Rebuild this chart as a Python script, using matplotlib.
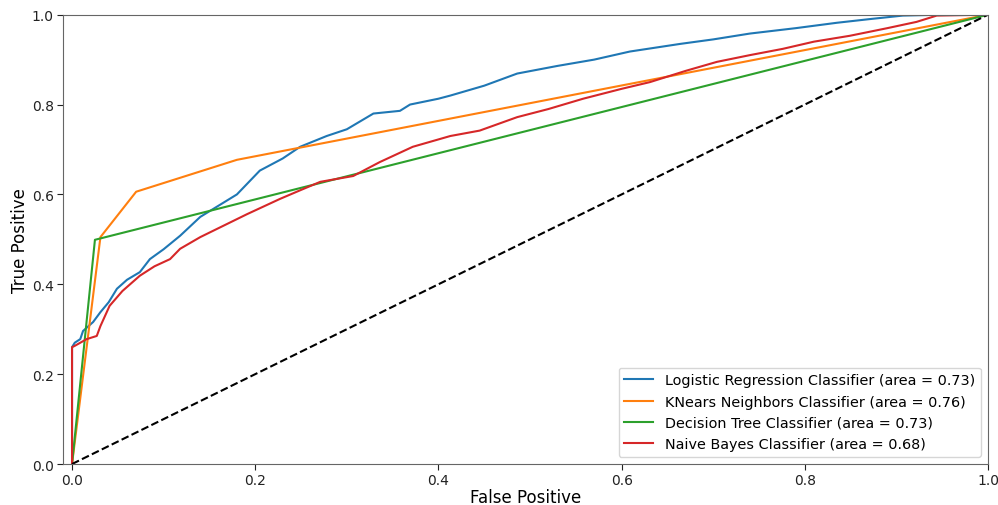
import matplotlib
matplotlib.use("Agg")
import matplotlib.pyplot as plt

# Logistic Regression ROC
lr_fpr = [0.0, 0.0, 0.003, 0.009, 0.012, 0.023, 0.031, 0.04, 0.049, 0.06, 0.074, 0.085,
          0.1, 0.118, 0.14, 0.16, 0.18, 0.205, 0.23, 0.249, 0.278, 0.3, 0.329, 0.358,
          0.369, 0.40, 0.413, 0.45, 0.486, 0.53, 0.57, 0.609, 0.664, 0.70, 0.74, 0.79,
          0.835, 0.87, 0.907, 0.95, 1.0]
lr_tpr = [0.0, 0.26, 0.27, 0.278, 0.296, 0.316, 0.338, 0.36, 0.39, 0.41, 0.427, 0.456,
          0.478, 0.508, 0.55, 0.575, 0.60, 0.653, 0.68, 0.706, 0.73, 0.745, 0.78, 0.786,
          0.80, 0.813, 0.82, 0.842, 0.869, 0.886, 0.90, 0.918, 0.935, 0.945, 0.958, 0.97,
          0.982, 0.99, 0.998, 1.0, 1.0]

# KNN ROC
knn_fpr = [0.0, 0.031, 0.07, 0.18, 1.0]
knn_tpr = [0.0, 0.505, 0.606, 0.677, 1.0]

# Decision Tree ROC
dt_fpr = [0.0, 0.025, 1.0]
dt_tpr = [0.0, 0.499, 1.0]

# Naive Bayes ROC
nb_fpr = [0.0, 0.0, 0.003, 0.016, 0.027, 0.031, 0.041, 0.055, 0.074, 0.09, 0.107, 0.118,
          0.14, 0.165, 0.191, 0.227, 0.25, 0.271, 0.307, 0.336, 0.372, 0.413, 0.445,
          0.486, 0.52, 0.558, 0.6, 0.631, 0.67, 0.704, 0.74, 0.776, 0.81, 0.849,
          0.89, 0.922, 0.944, 1.0]
nb_tpr = [0.0, 0.26, 0.263, 0.278, 0.285, 0.307, 0.352, 0.385, 0.419, 0.44, 0.456, 0.479,
          0.505, 0.53, 0.556, 0.59, 0.61, 0.628, 0.641, 0.672, 0.706, 0.73, 0.742,
          0.772, 0.79, 0.813, 0.835, 0.85, 0.875, 0.895, 0.91, 0.924, 0.94, 0.953,
          0.97, 0.984, 0.998, 1.0]

labels = ["Logistic Regression Classifier (area = 0.73)",
          "KNears Neighbors Classifier (area = 0.76)",
          "Decision Tree Classifier (area = 0.73)",
          "Naive Bayes Classifier (area = 0.68)"]
xticks = [0.0, 0.2, 0.4, 0.6, 0.8, 1.0]
yticks = [0.0, 0.2, 0.4, 0.6, 0.8, 1.0]

fig = plt.figure(figsize=(9.98, 5.06), dpi=100)
ax = fig.add_axes([0.063, 0.081, 0.927, 0.888])
ax.plot(lr_fpr, lr_tpr, color="#1f77b4", lw=1.5, label=labels[0])
ax.plot(knn_fpr, knn_tpr, color="#ff7f0e", lw=1.5, label=labels[1])
ax.plot(dt_fpr, dt_tpr, color="#2ca02c", lw=1.5, label=labels[2])
ax.plot(nb_fpr, nb_tpr, color="#d62728", lw=1.5, label=labels[3])
ax.plot([0, 1], [0, 1], "k--", lw=1.5)
ax.set_xlim(-0.01, 1.0)
ax.set_ylim(0.0, 1.0)
ax.set_xticks(xticks)
ax.set_yticks(yticks)
ax.tick_params(labelsize=10, colors="#222222", length=4, pad=2.5)
for s in ax.spines.values():
    s.set_color("#666666")
ax.set_xlabel("False Positive", fontsize=12, labelpad=0.5)
ax.set_ylabel("True Positive", fontsize=12, labelpad=2)
ax.legend(loc="lower right", fontsize=10.4)
fig.savefig("out.png", dpi=100)
